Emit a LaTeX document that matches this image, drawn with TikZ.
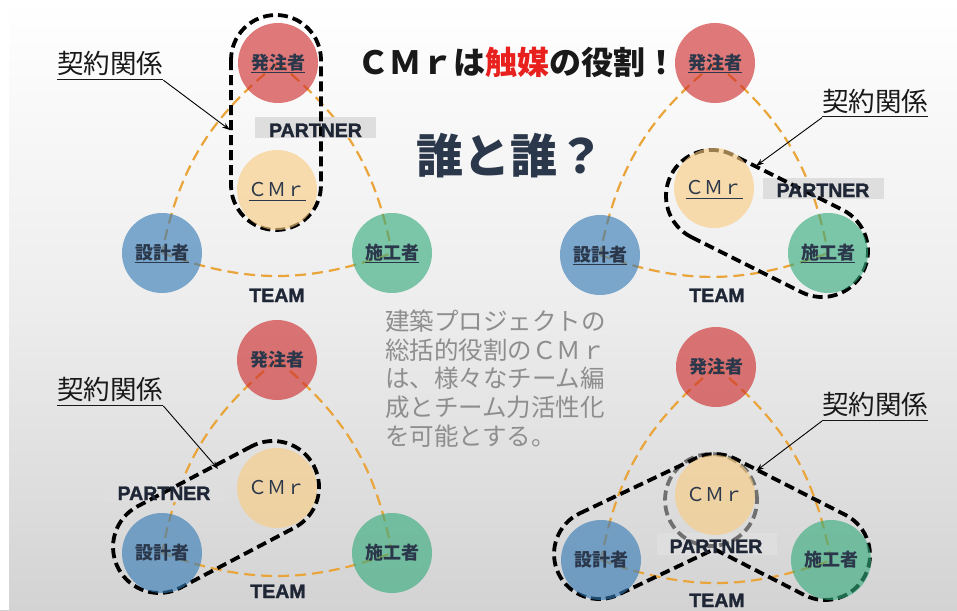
\documentclass[tikz,border=0pt]{standalone}
\usepackage{fontspec}
\newfontfamily\jp{Noto Sans CJK JP}
\newfontfamily\heavy{Liberation Sans Bold}[FakeBold=1.6]
\usetikzlibrary{arrows.meta}
\pgfdeclarelayer{back}
\pgfdeclarelayer{lines}
\pgfdeclarelayer{boxes}
\pgfdeclarelayer{loops}
\pgfdeclarelayer{front}
\pgfsetlayers{back,lines,boxes,loops,main,front}
\definecolor{cred}{RGB}{206,40,40}
\definecolor{cpeach}{RGB}{249,204,128}
\definecolor{cblue}{RGB}{51,122,183}
\definecolor{cgreen}{RGB}{51,170,125}
\definecolor{navy}{HTML}{2B374A}
\definecolor{teamorange}{HTML}{E9A43A}
\definecolor{boxgray}{HTML}{DEDEDE}
\definecolor{titlered}{HTML}{E8211F}
\definecolor{paragray}{HTML}{8E8E8E}
\definecolor{darktext}{HTML}{1F2736}
\definecolor{bgmid}{HTML}{EDEDED}
\definecolor{bgbot}{HTML}{D3D3D3}
\definecolor{loopgray}{HTML}{707070}
\newcommand\myul[3]{\setbox0=\hbox{#3}\leavevmode\rlap{\rule[-#1]{\wd0}{#2}}\box0}
\tikzset{
  circ/.style={circle, minimum size=80pt, inner sep=0pt, fill opacity=0.62, text opacity=1, text=navy},
  hac/.style={circ, fill=cred},
  cmc/.style={circ, fill=cpeach},
  sec/.style={circ, fill=cblue},
  skc/.style={circ, fill=cgreen},
  jlab/.style={font=\jp\bfseries\fontsize{18}{18}\selectfont, text height=15pt, text depth=1.3pt},
  clab/.style={font=\jp\fontsize{19}{19}\selectfont, text height=13.9pt, text depth=0.2pt},
  team/.style={draw=teamorange, line width=2.2pt, dash pattern=on 11pt off 6pt},
  loopline/.style={draw=black, line width=3.8pt, dash pattern=on 10pt off 5pt},
  pbox/.style={fill=boxgray, minimum width=121pt, minimum height=21pt, inner sep=0pt},
  ptext/.style={font=\heavy\fontsize{19.5}{19.5}\selectfont, text=darktext, inner sep=0pt, anchor=base},
  kei/.style={font=\jp\fontsize{26.5}{26.5}\selectfont, text=black!90, inner sep=0pt, anchor=base west},
  para/.style={font=\jp\fontsize{24.5}{24.5}\selectfont, text=paragray, inner sep=0pt, anchor=base west},
  karrow/.style={-{Stealth[length=8pt,width=5.5pt]}, line width=0.9pt},
}
\begin{document}
\begin{tikzpicture}[x=1pt,y=1pt]
\begin{pgfonlayer}{back}
\shade[top color=white, bottom color=bgbot, middle color=bgmid] (0,0) rectangle (957,-610);
\fill[white] (0,0) rectangle (9,-610);
\end{pgfonlayer}
\useasboundingbox (0,0) rectangle (957,-610);

% ---------- titles ----------
\node[anchor=base west, inner sep=0pt, font=\jp\bfseries\fontsize{32}{32}\selectfont, text=black!90] (title) at (357,-74.5) {ＣＭｒは\textcolor{titlered}{触媒}の役割！};
\node[anchor=base west, inner sep=0pt, font=\jp\bfseries\fontsize{47}{47}\selectfont, text=navy] (quest) at (416,-173.7) {誰と誰？};
\node[para] (p1) at (385,-330.5) {建築プロジェクトの};
\node[para] (p2) at (385,-359.2) {総括的役割のＣＭｒ};
\node[para] (p3) at (385,-387.9) {は、様々なチーム編};
\node[para] (p4) at (385,-416.6) {成とチーム力活性化};
\node[para] (p5) at (385,-445.3) {を可能とする。};

% ---------- panel 1 ----------
\node[hac,jlab] (ha1) at (278,-63) {\myul{3.5pt}{1.1pt}{発注者}};
\node[cmc,clab] (cm1) at (277,-190) {\myul{3.8pt}{1.1pt}{ＣＭｒ}};
\node[sec,jlab] (se1) at (162,-253) {\myul{3.5pt}{1.1pt}{設計者}};
\node[skc,jlab] (sk1) at (392,-253) {\myul{3.5pt}{1.1pt}{施工者}};
\begin{pgfonlayer}{boxes}
\node[pbox] (pb1) at (315.5,-127.5) {};
\end{pgfonlayer}
\node[ptext] (pt1) at (315.5,-137) {PARTNER};
\node[ptext] (tm1) at (277,-302) {TEAM};
\node[kei] (kk1) at (57,-74) {\myul{6pt}{1.3pt}{契約関係}};
\coordinate (a1) at (230,-130);

% ---------- panel 2 ----------
\node[hac,jlab] (ha2) at (715,-63) {\myul{3.5pt}{1.1pt}{発注者}};
\node[cmc,clab] (cm2) at (714,-188) {\myul{3.8pt}{1.1pt}{ＣＭｒ}};
\node[sec,jlab] (se2) at (600,-255) {\myul{3.5pt}{1.1pt}{設計者}};
\node[skc,jlab] (sk2) at (828,-253) {\myul{3.5pt}{1.1pt}{施工者}};
\begin{pgfonlayer}{boxes}
\node[pbox] (pb2) at (823,-188.5) {};
\end{pgfonlayer}
\node[ptext] (pt2) at (823,-197) {PARTNER};
\node[ptext] (tm2) at (717,-302) {TEAM};
\node[kei] (kk2) at (822,-111.4) {\myul{6pt}{1.3pt}{契約関係}};
\coordinate (a2) at (756,-166);

% ---------- panel 3 ----------
\node[hac,jlab] (ha3) at (277,-360) {発注者};
\node[cmc,clab] (cm3) at (277,-488) {ＣＭｒ};
\node[sec,jlab] (se3) at (162,-553) {設計者};
\node[skc,jlab] (sk3) at (392,-553) {施工者};
\begin{pgfonlayer}{boxes}
\node[pbox, minimum height=25pt] (pb3) at (163.5,-489.2) {};
\end{pgfonlayer}
\node[ptext] (pt3) at (164,-500) {PARTNER};
\node[ptext] (tm3) at (278,-598) {TEAM};
\node[kei] (kk3) at (57,-399.8) {\myul{6pt}{1.3pt}{契約関係}};
\coordinate (a3) at (218,-469);

% ---------- panel 4 ----------
\node[hac,jlab] (ha4) at (716,-367) {発注者};
\node[cmc,clab] (cm4) at (715,-495) {ＣＭｒ};
\node[sec,jlab] (se4) at (601,-560) {設計者};
\node[skc,jlab] (sk4) at (831,-560) {施工者};
\begin{pgfonlayer}{boxes}
\node[pbox, minimum width=120pt, minimum height=22pt] (pb4) at (717,-544) {};
\end{pgfonlayer}
\node[ptext] (pt4) at (716,-553) {PARTNER};
\node[ptext] (tm4) at (717,-607) {TEAM};
\node[kei] (kk4) at (822,-414.8) {\myul{6pt}{1.3pt}{契約関係}};
\coordinate (a4) at (756,-471);

% ---------- team curves ----------
\begin{pgfonlayer}{lines}
\foreach \i in {1,2,3,4}{
  \draw[team] (ha\i.center) to[bend right=20] (se\i.center);
  \draw[team] (ha\i.center) to[bend left=20] (sk\i.center);
  \draw[team] (se\i.center) to[bend right=20] (sk\i.center);
}
\end{pgfonlayer}

% ---------- contract loops ----------
\begin{pgfonlayer}{loops}
\begin{scope}[shift={(276,-60)}, rotate=-90]
  \draw[loopline] (0,-45) -- (125,-45) arc[start angle=-90, end angle=90, radius=45] -- (0,45) arc[start angle=90, end angle=270, radius=45] -- cycle;
\end{scope}
\begin{scope}[shift={(712,-196)}, rotate=-26.565]
  \draw[loopline] (0,-46) -- (123,-46) arc[start angle=-90, end angle=90, radius=46] -- (0,46) arc[start angle=90, end angle=270, radius=46] -- cycle;
\end{scope}
\begin{scope}[shift={(273,-487)}, rotate=-152.24]
  \draw[loopline] (0,-46) -- (128.8,-46) arc[start angle=-90, end angle=90, radius=46] -- (0,46) arc[start angle=90, end angle=270, radius=46] -- cycle;
\end{scope}
\draw[loopline, draw=loopgray] (711,-500) circle[radius=46];
\draw[loopline] (579.7,-513.35) -- (695.7,-458.35)
  arc[start angle=115.37, end angle=63.02, radius=45] -- (845.4,-514.9)
  arc[start angle=63.02, end angle=-116.98, radius=45] -- (714.3,-549.1) -- (618.3,-594.65)
  arc[start angle=-64.63, end angle=-244.63, radius=45] -- cycle;
\end{pgfonlayer}

% ---------- arrows ----------
\begin{pgfonlayer}{front}
\draw[karrow] (kk1.south east) -- (a1);
\draw[karrow] (kk2.south west) -- (a2);
\draw[karrow] (kk3.south east) -- (a3);
\draw[karrow] (kk4.south west) -- (a4);
\end{pgfonlayer}
\end{tikzpicture}
\end{document}
